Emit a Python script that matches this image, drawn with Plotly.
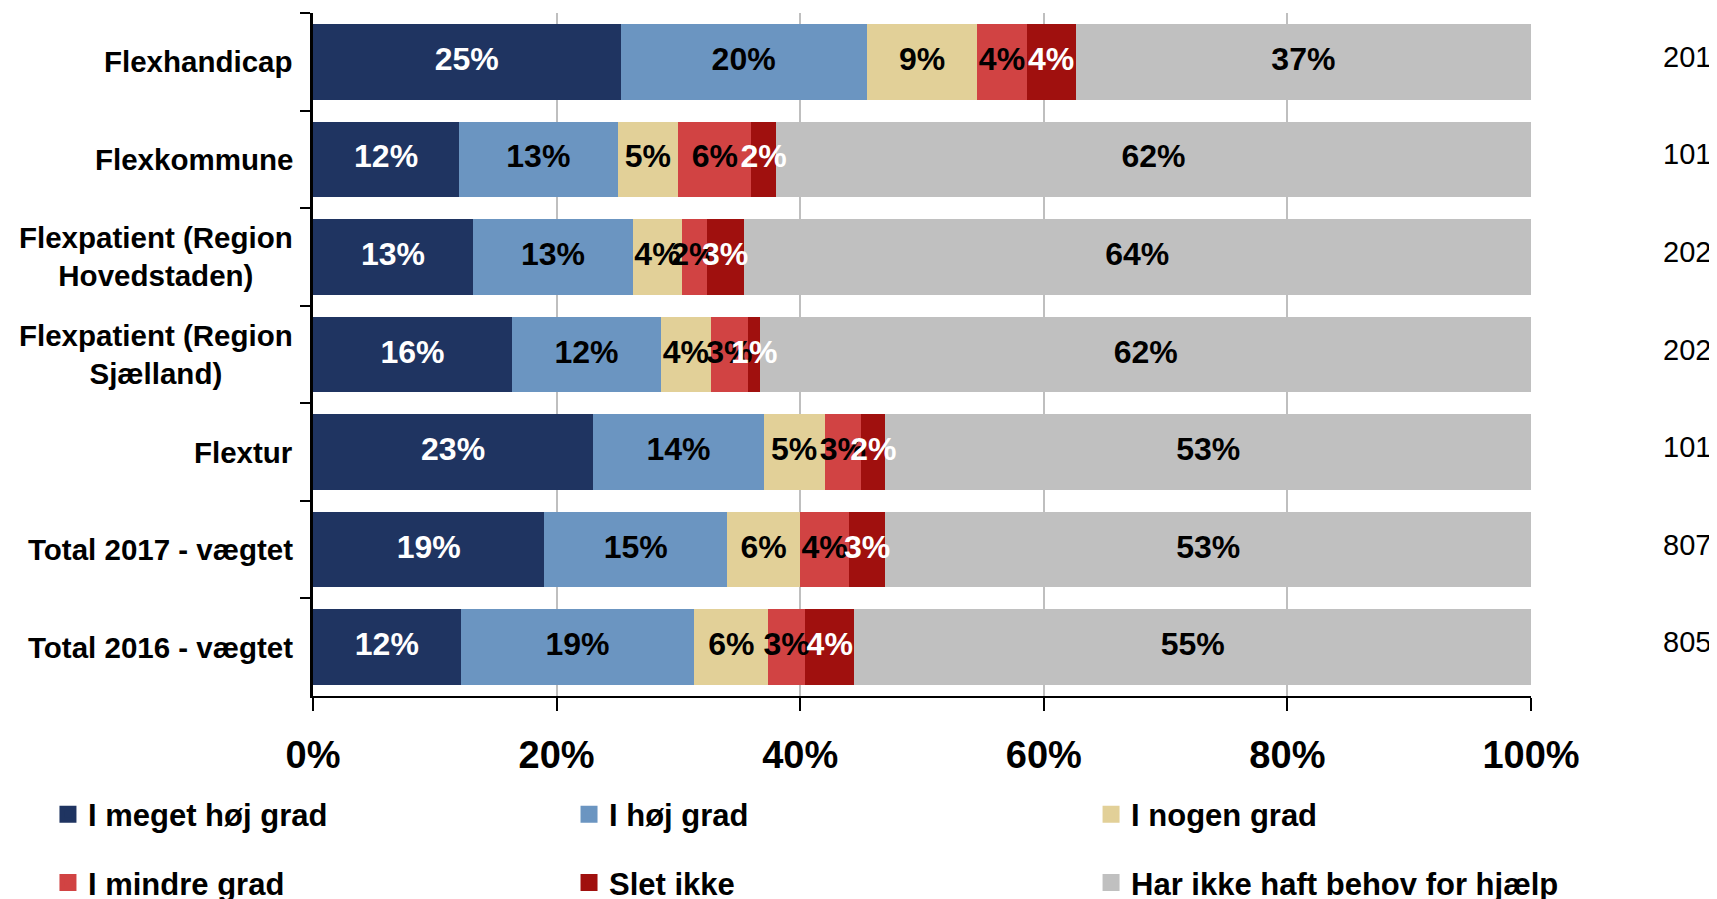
import plotly.graph_objects as go
import pandas as pd

categories = ["Flexhandicap", "Flexkommune", "Flexpatient (Region<br>Hovedstaden)",
              "Flexpatient (Region<br>Sjælland)", "Flextur", "Total 2017 - vægtet",
              "Total 2016 - vægtet"]
n_answers = [201, 101, 202, 202, 101, 807, 805]

series_names = ["I meget høj grad", "I høj grad", "I nogen grad",
                "I mindre grad", "Slet ikke", "Har ikke haft behov for hjælp"]
meget_hoj = [25, 12, 13, 16, 23, 19, 12]
hoj = [20, 13, 13, 12, 14, 15, 19]
nogen = [9, 5, 4, 4, 5, 6, 6]
mindre = [4, 6, 2, 3, 3, 4, 3]
slet_ikke = [4, 2, 3, 1, 2, 3, 4]
ikke_behov = [37, 62, 64, 62, 53, 53, 55]

colors = ["#1F3461", "#6B95C1", "#E2D098", "#D14343", "#A0100E", "#C0C0C0"]
label_colors = ["white", "black", "black", "black", "white", "black"]
legend_ids = ["legend", "legend2", "legend3", "legend", "legend2", "legend3"]

FONT = "Liberation Sans, Arial, sans-serif"

df = pd.DataFrame(dict(zip(series_names, [meget_hoj, hoj, nogen, mindre, slet_ikke, ikke_behov])),
                  index=categories)
# 100% stacked bar: positions are normalised, labels show the raw values
shares = df.div(df.sum(axis=1), axis=0) * 100
mids = shares.cumsum(axis=1) - shares / 2

fig = go.Figure()
for name, col in zip(series_names, colors):
    fig.add_trace(go.Bar(
        x=df[name], y=categories, orientation="h", name=name,
        marker=dict(color=col, line=dict(width=0)),
        legendgroup=name, showlegend=False,
    ))

# legend-only entries, thicker outline gives the bigger Excel-like swatch
for name, col, leg in zip(series_names, colors, legend_ids):
    fig.add_trace(go.Bar(
        x=[None], y=[categories[0]], orientation="h", name=name,
        marker=dict(color=col, line=dict(color=col, width=5)),
        legend=leg, legendgroup=name,
    ))

for name, tcol in zip(series_names, label_colors):
    fig.add_trace(go.Scatter(
        x=mids[name], y=categories, mode="text",
        text=[f"{v}%" for v in df[name]],
        textposition="middle center",
        textfont=dict(family=FONT, size=32, color=tcol, weight="bold"),
        showlegend=False, hoverinfo="skip", cliponaxis=False,
    ))

for cat in categories:
    fig.add_annotation(x=0, xref="paper", y=cat, yref="y", text=cat,
                       xanchor="right", xshift=-18, align="center", showarrow=False,
                       font=dict(family=FONT, size=29.5, color="black", weight="bold"))

for cat, n in zip(categories, n_answers):
    fig.add_annotation(x=1.1067, xref="paper", y=cat, yref="y", text=str(n),
                       xanchor="left", yshift=5, showarrow=False,
                       font=dict(family=FONT, size=29, color="black"))

legend_style = dict(orientation="v", traceorder="grouped", tracegroupgap=25,
                    xanchor="left", yanchor="top", y=-0.134, bgcolor="rgba(0,0,0,0)",
                    font=dict(family=FONT, size=31, color="black", weight="bold"))

# page body adds 8px, so the figure is 8px smaller than the window
fig.update_layout(
    width=1709, height=891,
    margin=dict(l=305, r=186, t=5, b=203, autoexpand=False),
    barmode="stack", barnorm="percent", bargap=0.225,
    plot_bgcolor="white", paper_bgcolor="white",
    font=dict(family=FONT, color="black"),
    legend=dict(x=-0.2176, **legend_style),
    legend2=dict(x=0.2102, **legend_style),
    legend3=dict(x=0.6388, **legend_style),
    xaxis=dict(range=[0, 100], dtick=20, ticksuffix="%", showgrid=True,
               gridcolor="#BFBFBF", gridwidth=2, zeroline=False,
               showline=True, linecolor="black", linewidth=2,
               ticks="outside", ticklen=13, tickwidth=2, tickcolor="black",
               ticklabelstandoff=11,
               tickfont=dict(family=FONT, size=38, color="black", weight="bold")),
    yaxis=dict(autorange="reversed", showticklabels=False, showgrid=False,
               showline=True, linecolor="black", linewidth=2.5,
               ticks="outside", tickson="boundaries", ticklen=10, tickwidth=2,
               tickcolor="black"),
)

fig.write_html("out.html")
